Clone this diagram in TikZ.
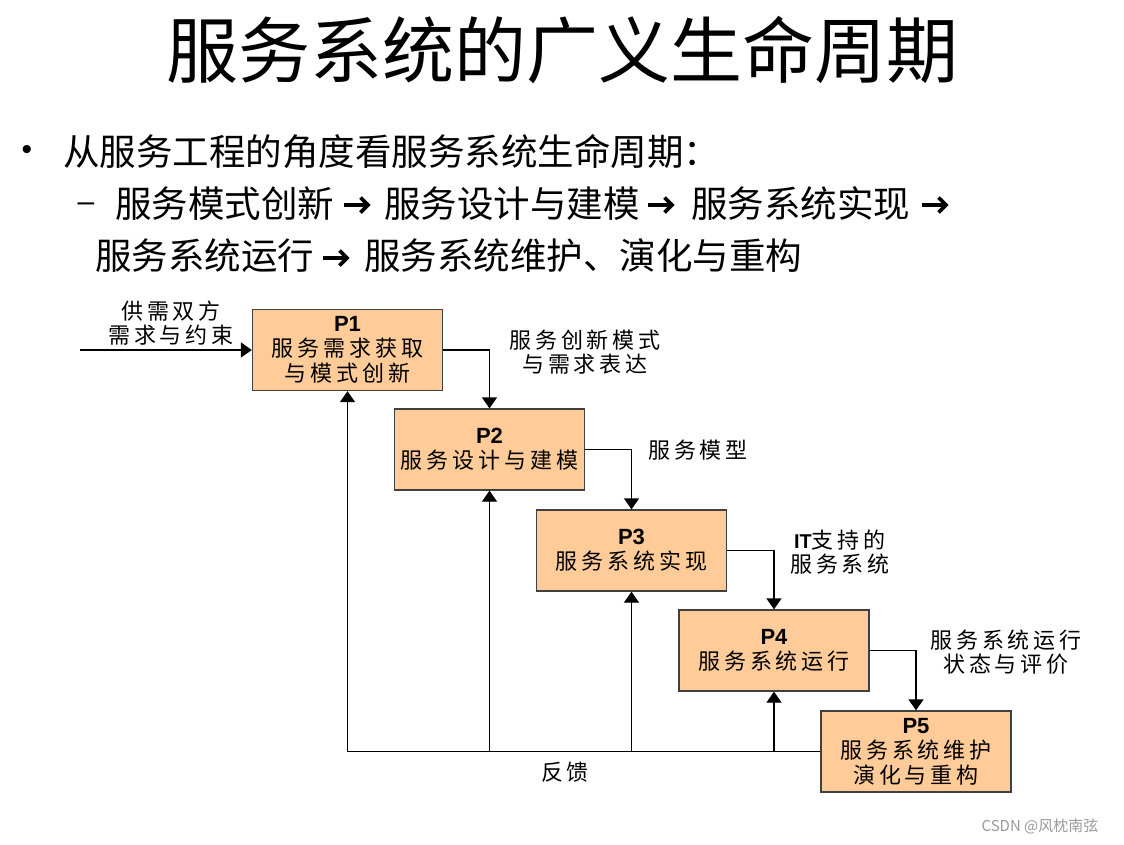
\documentclass[tikz,border=0pt]{standalone}
\usepackage{fontspec}
\setmainfont{Liberation Sans}
\newfontfamily\cjk{Noto Sans CJK SC}
\newfontfamily\cjkbox[LetterSpace=18]{Noto Sans CJK SC}
\usetikzlibrary{arrows.meta}
\definecolor{boxfill}{RGB}{255,204,153}
\definecolor{boxline}{RGB}{64,64,64}
\begin{document}
\begin{tikzpicture}[x=1pt,y=-1pt,
  procbox/.style={draw=boxline, line width=1.3pt, fill=boxfill, minimum width=190pt, minimum height=81pt, inner sep=0pt, align=center, font=\cjkbox\fontsize{22}{25}\selectfont},
  flowlabel/.style={inner sep=0pt, align=center, font=\cjkbox\fontsize{22}{24}\selectfont},
  bigtext/.style={inner sep=0pt, anchor=west, font=\cjk\fontsize{36.5}{40}\selectfont},
  fatarrow/.pic={\draw[line width=3.6pt, line cap=butt] (-13,0) -- (11,0);
                 \draw[line width=3.6pt, line join=miter, line cap=butt] (3.5,-7.5) -- (11,0) -- (3.5,7.5);},
  conn/.style={line width=1.3pt, -{Triangle[width=15pt,length=11pt]}},
  plainline/.style={line width=1.3pt}
]
\useasboundingbox (0,0) rectangle (1124,844);
% title and bullet text
\node[inner sep=0pt, font=\cjk\fontsize{72}{80}\selectfont] (title) at (562,50) {服务系统的广义生命周期};
\node[inner sep=0pt, font=\fontsize{30}{30}\selectfont] (bul) at (27,152) {•};
\node[bigtext] (l1) at (63,152) {从服务工程的角度看服务系统生命周期：};
\node[inner sep=0pt, font=\fontsize{30}{36}\selectfont] (dash) at (86,207) {–};
\node[bigtext] (l2a) at (115,204) {服务模式创新};
\pic at (357,205) {fatarrow};
\node[bigtext] (l2b) at (384,204) {服务设计与建模};
\pic at (661,205) {fatarrow};
\node[bigtext] (l2c) at (691,204) {服务系统实现};
\pic at (935,205) {fatarrow};
\node[bigtext] (l3a) at (95,256) {服务系统运行};
\pic at (336,258) {fatarrow};
\node[bigtext] (l3b) at (364,256) {服务系统维护、演化与重构};
% process boxes
\node[procbox] (P1) at (347.5,350) {{\normalfont\bfseries\fontsize{22}{25}\selectfont P1}\\服务需求获取\\与模式创新};
\node[procbox] (P2) at (489.5,449.5) {{\normalfont\bfseries\fontsize{22}{25}\selectfont P2}\\服务设计与建模};
\node[procbox] (P3) at (631.5,550.5) {{\normalfont\bfseries\fontsize{22}{25}\selectfont P3}\\服务系统实现};
\node[procbox] (P4) at (774,650.5) {{\normalfont\bfseries\fontsize{22}{25}\selectfont P4}\\服务系统运行};
\node[procbox] (P5) at (916,751.5) {{\normalfont\bfseries\fontsize{22}{25}\selectfont P5}\\服务系统维护\\演化与重构};
% input
\coordinate (in) at (80,350);
\draw[conn] (in) -- (P1.west);
\node[flowlabel] (lin) at (171,323) {供需双方\\需求与约束};
% forward flow
\draw[conn] (P1.east) -| (P2.north);
\draw[conn] (P2.east) -| (P3.north);
\draw[conn] (P3.east) -| (P4.north);
\draw[conn] (P4.east) -| (P5.north);
\node[flowlabel] (f1) at (585,352) {服务创新模式\\与需求表达};
\node[flowlabel] (f2) at (698,450) {服务模型};
\node[flowlabel] (f3) at (840,552) {{\normalfont\bfseries\fontsize{20}{24}\selectfont IT}支持的\\服务系统};
\node[flowlabel] (f4) at (1006,652) {服务系统运行\\状态与评价};
% feedback
\coordinate (fb1) at (P5.west -| P1.south);
\coordinate (fb2) at (P5.west -| P2.south);
\coordinate (fb3) at (P5.west -| P3.south);
\coordinate (fb4) at (P5.west -| P4.south);
\draw[plainline] (P5.west) -- (fb1);
\draw[conn] (fb1) -- (P1.south);
\draw[conn] (fb2) -- (P2.south);
\draw[conn] (fb3) -- (P3.south);
\draw[conn] (fb4) -- (P4.south);
\node[flowlabel] (fbl) at (565,772) {反馈};
% watermark
\node[inner sep=0pt, text=black!40, font=\cjk\fontsize{15}{18}\selectfont] (wm) at (1040,826) {CSDN @风枕南弦};
\end{tikzpicture}
\end{document}
